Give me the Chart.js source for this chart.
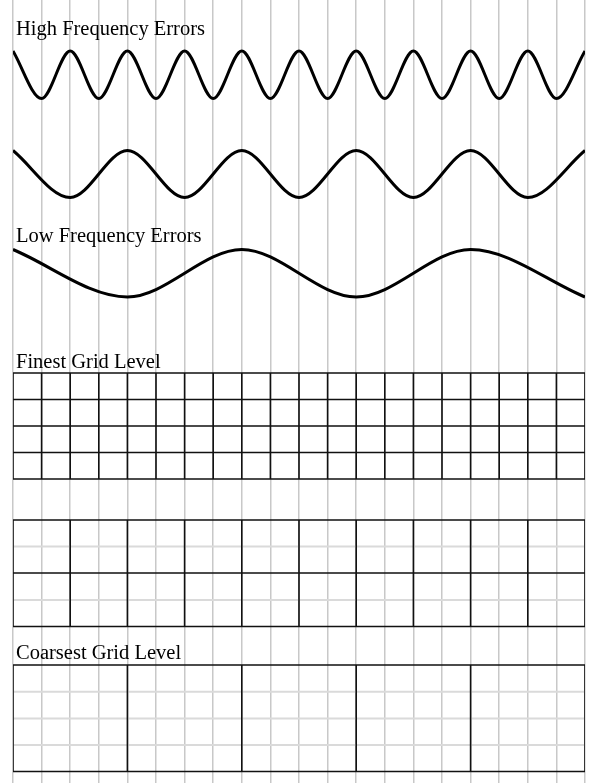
<!DOCTYPE html>
<html>
<head>
<meta charset="utf-8">
<script src="https://cdn.jsdelivr.net/npm/chart.js@4"></script>
<style>
  body { margin: 0; background: #fff; }
  canvas { display: block; }
</style>
</head>
<body>
<canvas id="errChart" width="595" height="783"></canvas>
<script>
// x is in fine grid cells (0..20), y is in vertical units of the page (0 at top)
const highX = [0,1,2,3,4,5,6,7,8,9,10,11,12,13,14,15,16,17,18,19,20];
const highY = [51,98.5,51,98.5,51,98.5,51,98.5,51,98.5,51,98.5,51,98.5,51,98.5,51,98.5,51,98.5,51];
const midX = [0,2,4,6,8,10,12,14,16,18,20];
const midY = [150.5,197.5,150.5,197.5,150.5,197.5,150.5,197.5,150.5,197.5,150.5];
const lowX = [0,4,8,12,16,20];
const lowY = [249.5,297,249.5,297,249.5,297];

const fineCols = [0,1,2,3,4,5,6,7,8,9,10,11,12,13,14,15,16,17,18,19,20];
const fineRows = [373,399.5,426,452.5,479];
const midCols = [0,2,4,6,8,10,12,14,16,18,20];
const midRows = [520,573,626.5];
const midSubRows = [546.5,600];
const coarseCols = [0,4,8,12,16,20];
const coarseRows = [665,771.5];
const coarseSubRows = [691.7,718.5,745];

const titles = ['High Frequency Errors','Low Frequency Errors','Finest Grid Level','Coarsest Grid Level'];
const titleY = [35,242,368,659];

function wave(xs, ys) {
  return xs.map((x, i) => ({ x: x, y: ys[i] }));
}

function gridLines(cols, rows, subRows) {
  const pts = [];
  const left = cols[0], right = cols[cols.length - 1];
  const top = rows[0], bottom = rows[rows.length - 1];
  if (subRows) {
    subRows.forEach(r => { pts.push({x:left,y:r},{x:right,y:r},{x:right,y:null}); });
    return pts;
  }
  rows.forEach(r => { pts.push({x:left,y:r},{x:right,y:r},{x:right,y:null}); });
  cols.forEach(c => { pts.push({x:c,y:top},{x:c,y:bottom},{x:c,y:null}); });
  return pts;
}

function waveSet(data) {
  return {
    data: data, showLine: true, borderColor: '#000', borderWidth: 3,
    pointRadius: 0, cubicInterpolationMode: 'monotone', order: 1
  };
}

function gridSet(data, color, width, order) {
  return {
    data: data, showLine: true, borderColor: color, borderWidth: width,
    pointRadius: 0, spanGaps: false, borderCapStyle: 'square', order: order
  };
}

const titlePlugin = {
  id: 'titles',
  afterDraw(chart) {
    const ctx = chart.ctx;
    const xs = chart.scales.x, ys = chart.scales.y;
    ctx.save();
    ctx.font = '20.5px "Liberation Serif", "Times New Roman", serif';
    ctx.fillStyle = '#000';
    ctx.textBaseline = 'alphabetic';
    titles.forEach((t, i) => {
      ctx.fillText(t, xs.getPixelForValue(0) + 3, ys.getPixelForValue(titleY[i]));
    });
    ctx.restore();
  }
};

new Chart(document.getElementById('errChart'), {
  type: 'scatter',
  data: {
    datasets: [
      waveSet(wave(highX, highY)),
      waveSet(wave(midX, midY)),
      waveSet(wave(lowX, lowY)),
      gridSet(gridLines(fineCols, fineRows), '#111', 1.6, 1),
      gridSet(gridLines(midCols, midRows), '#111', 1.6, 1),
      gridSet(gridLines(coarseCols, coarseRows), '#111', 1.6, 1),
      gridSet(gridLines(midCols, midRows, midSubRows), '#dadada', 2, 3),
      gridSet(gridLines(coarseCols, coarseRows, coarseSubRows), '#dadada', 2, 3)
    ]
  },
  options: {
    responsive: false,
    animation: false,
    layout: { padding: { left: 13, right: 10, top: 0, bottom: 0 } },
    plugins: { legend: { display: false }, tooltip: { enabled: false }, title: { display: false } },
    scales: {
      x: {
        type: 'linear', min: 0, max: 20,
        ticks: { display: false, stepSize: 1 },
        grid: { color: '#c8c8c8', lineWidth: 1.5, drawTicks: false },
        border: { display: false }
      },
      y: {
        type: 'linear', min: 0, max: 783, reverse: true,
        display: false
      }
    }
  },
  plugins: [titlePlugin]
});
</script>
</body>
</html>
